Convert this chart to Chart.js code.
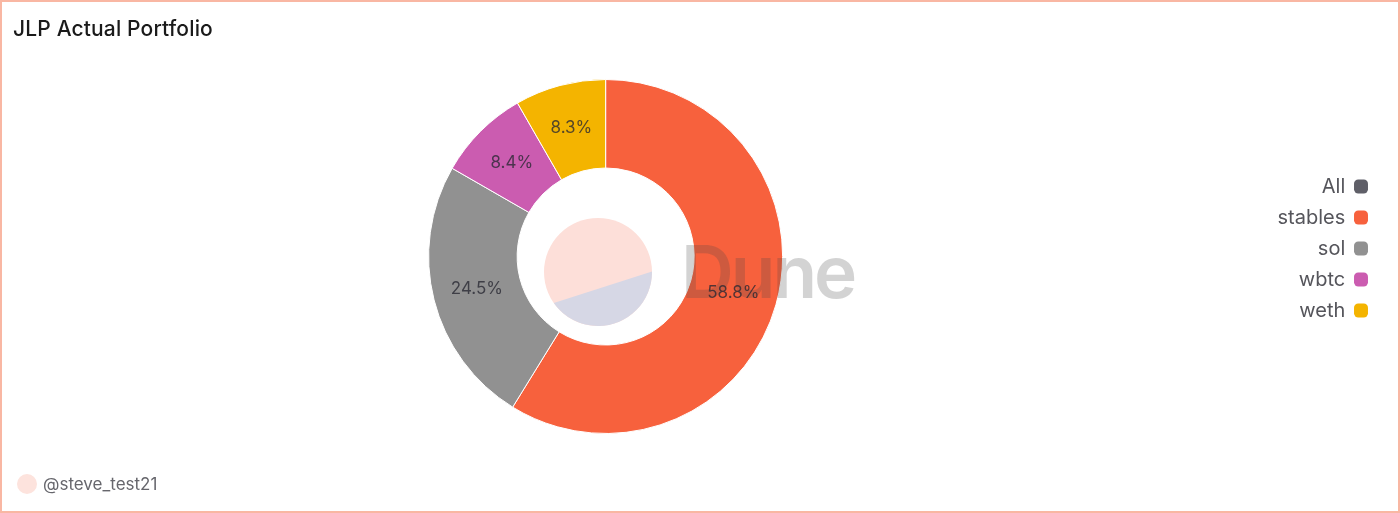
<!DOCTYPE html>
<html>
<head>
<meta charset="utf-8">
<script src="https://cdn.jsdelivr.net/npm/chart.js@4"></script>
<style>
  html, body { margin: 0; padding: 0; background: #fff; }
  #frame { position: relative; width: 1400px; height: 513px; box-sizing: border-box; border: 2px solid #f9b7a3; overflow: hidden; }
  #myChart { position: absolute; left: -2px; top: -2px; }
  #title { position: absolute; left: 11px; top: 14px; font: 500 21px Inter, sans-serif; letter-spacing: 0.15px; color: #1a1a1a; white-space: nowrap; }
  #avatar { position: absolute; left: 15px; top: 472px; width: 20px; height: 20px; border-radius: 50%; background: #fde3dd; }
  #author { position: absolute; left: 41px; top: 472px; font: 400 17px Inter, sans-serif; color: #66666c; white-space: nowrap; }
</style>
</head>
<body>
<div id="frame">
  <canvas id="myChart" width="1400" height="513"></canvas>
  <div id="title">JLP Actual Portfolio</div>
  <div id="avatar"></div>
  <div id="author">@steve_test21</div>
</div>
<script>
const categories = ['All', 'stables', 'sol', 'wbtc', 'weth'];
const shares = [0, 58.8, 24.5, 8.4, 8.3];
const colors = ['#5f5f68', '#f7613d', '#919191', '#cb5cb0', '#f4b400'];

// pale Dune logo in the hole, the watermark over the ring, then the % labels
const decorations = {
  id: 'decorations',
  afterLayout(chart) {
    // ring is off-centre on the page, so the legend gets moved by hand
    chart.legend.left += 56.25;
    chart.legend.right += 56.25;
    chart.legend.top -= 8;
    chart.legend.bottom -= 8;
  },
  beforeDatasetsDraw(chart) {
    const c = chart.ctx;
    const x = 598, y = 272, r = 54;
    c.save();
    c.fillStyle = '#fddfd9';
    c.beginPath();
    c.arc(x, y, r, 0, Math.PI * 2);
    c.fill();
    c.fillStyle = '#d6d7e5';
    c.beginPath();
    c.arc(x, y, r, -0.01, 2.53);
    c.closePath();
    c.fill();
    c.restore();
  },
  afterDatasetsDraw(chart) {
    const c = chart.ctx;
    c.save();
    c.fillStyle = 'rgba(70, 70, 70, 0.24)';
    c.font = '600 73px Inter, sans-serif';
    c.letterSpacing = '-3px';
    c.textBaseline = 'alphabetic';
    c.textAlign = 'left';
    c.fillText('Dune', 681, 298);
    c.letterSpacing = '0px';
    c.fillStyle = 'rgba(40, 40, 50, 0.78)';
    c.font = '400 17px Inter, sans-serif';
    c.textAlign = 'center';
    c.textBaseline = 'middle';
    chart.getDatasetMeta(0).data.forEach((arc, i) => {
      if (!shares[i]) return;
      const p = arc.tooltipPosition();
      c.fillText(shares[i].toFixed(1) + '%', p.x, p.y);
    });
    c.restore();
  }
};

const ctx = document.getElementById('myChart');
new Chart(ctx, {
  type: 'doughnut',
  plugins: [decorations],
  data: {
    labels: categories,
    datasets: [{
      data: shares,
      backgroundColor: colors,
      borderColor: '#ffffff',
      borderWidth: 1
    }]
  },
  options: {
    responsive: false,
    animation: false,
    cutout: '50%',
    layout: { padding: { left: 0, right: 78.5, top: 79, bottom: 79 } },
    plugins: {
      tooltip: { enabled: false },
      legend: {
        position: 'right',
        rtl: true,
        labels: {
          color: '#55555b',
          font: { family: 'Inter, sans-serif', size: 20 },
          usePointStyle: true,
          pointStyle: 'rectRounded',
          boxHeight: 11.5,
          boxWidth: 11.5,
          padding: 11,
          generateLabels(chart) {
            return categories.map((name, i) => ({
              text: name,
              fillStyle: colors[i],
              strokeStyle: colors[i],
              fontColor: '#55555b',
              lineWidth: 0,
              pointStyle: 'rectRounded',
              index: i
            }));
          }
        }
      }
    }
  }
});
</script>
</body>
</html>
